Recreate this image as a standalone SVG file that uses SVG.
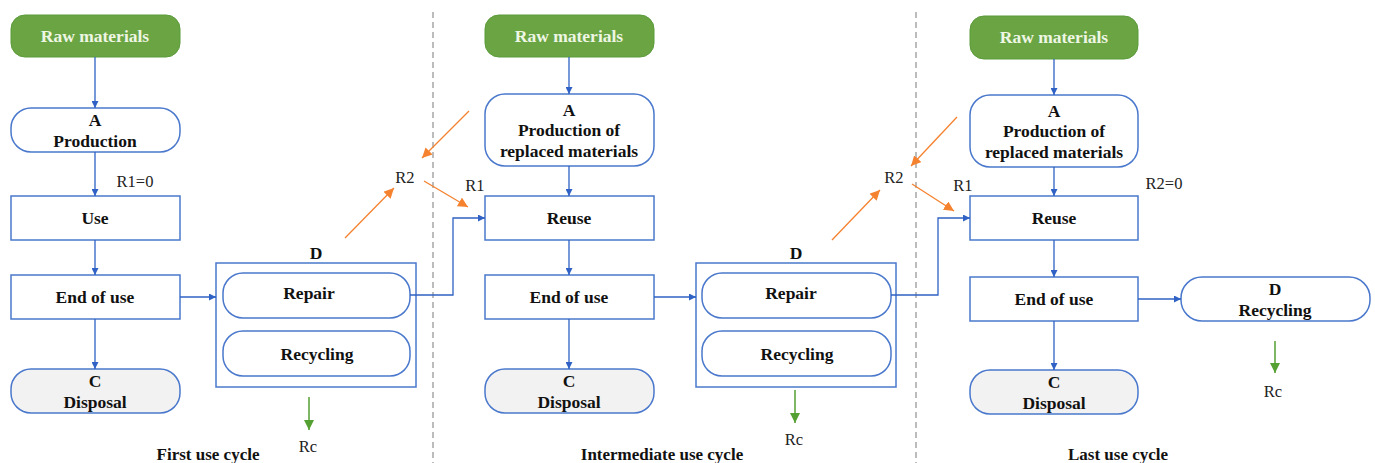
<svg xmlns="http://www.w3.org/2000/svg" width="1375" height="463" viewBox="0 0 1375 463">
<style>
.raw{fill:#6aa443;stroke:#5b9b3a;stroke-width:1}
.box{fill:#fff;stroke:#4a78cc;stroke-width:1.5}
.grey{fill:#f2f2f2;stroke:#4a78cc;stroke-width:1.5}
.t{font-family:"Liberation Serif","Times New Roman",serif;font-weight:bold;font-size:17.5px;fill:#111;text-anchor:middle}
.tw{font-family:"Liberation Serif","Times New Roman",serif;font-weight:bold;font-size:17.5px;fill:#eef6e4;text-anchor:middle}
.r{font-family:"Liberation Serif","Times New Roman",serif;font-size:16.5px;fill:#222;text-anchor:middle}
.cap{font-family:"Liberation Serif","Times New Roman",serif;font-weight:bold;font-size:17px;fill:#111;text-anchor:middle}
.bl{fill:none;stroke:#2f62c4;stroke-width:1.3}
.or{fill:none;stroke:#f5822f;stroke-width:1.3}
.gr{fill:none;stroke:#55a032;stroke-width:1.5}
.dash{stroke:#a6a6a6;stroke-width:1.5;stroke-dasharray:6 4}
</style>
<defs>
<marker id="ab" viewBox="0 0 10 10" refX="10" refY="5" markerWidth="7" markerHeight="7" markerUnits="userSpaceOnUse" orient="auto"><path d="M0,0 L10,5 L0,10 z" fill="#2f62c4"/></marker>
<marker id="ao" viewBox="0 0 10 10" refX="10" refY="5" markerWidth="10" markerHeight="10" markerUnits="userSpaceOnUse" orient="auto"><path d="M0,0 L10,5 L0,10 z" fill="#f5822f"/></marker>
<marker id="ag" viewBox="0 0 10 10" refX="10" refY="5" markerWidth="10" markerHeight="10" markerUnits="userSpaceOnUse" orient="auto"><path d="M0,0 L10,5 L0,10 z" fill="#55a032"/></marker>
</defs>
<rect width="1375" height="463" fill="#fff"/>
<line class="dash" x1="433" y1="12" x2="433" y2="463"/>
<line class="dash" x1="916" y1="12" x2="916" y2="463"/>

<!-- Cycle 1 -->
<g id="raw1"><rect class="raw" x="11" y="15" width="169" height="42" rx="14"/><text class="tw" x="95" y="42">Raw materials</text></g>
<g id="prod1"><rect class="box" x="11" y="108" width="169" height="44" rx="20"/><text class="t" x="95" y="126">A</text><text class="t" x="95" y="147">Production</text></g>
<g id="use1"><rect class="box" x="11" y="196" width="169" height="44"/><text class="t" x="95" y="224">Use</text></g>
<g id="end1"><rect class="box" x="11" y="275" width="169" height="44"/><text class="t" x="95" y="303">End of use</text></g>
<g id="disp1"><rect class="grey" x="11" y="369" width="169" height="44" rx="20"/><text class="t" x="95" y="387">C</text><text class="t" x="95" y="408">Disposal</text></g>
<g id="d1"><text class="t" x="316" y="259">D</text><rect class="box" x="216" y="263" width="200" height="124"/>
<rect class="box" x="223" y="273" width="187" height="45" rx="20"/><text class="t" x="309" y="299">Repair</text>
<rect class="box" x="223" y="331" width="187" height="45" rx="20"/><text class="t" x="317" y="360">Recycling</text></g>
<text class="r" x="135" y="187">R1=0</text>
<text class="r" x="405" y="183">R2</text>
<text class="r" x="308" y="452">Rc</text>
<text class="cap" x="208" y="460">First use cycle</text>

<!-- Cycle 2 -->
<g id="raw2"><rect class="raw" x="485" y="15" width="169" height="42" rx="14"/><text class="tw" x="569" y="42">Raw materials</text></g>
<g id="prod2"><rect class="box" x="485" y="94" width="169" height="72" rx="20"/><text class="t" x="569" y="116">A</text><text class="t" x="569" y="136">Production of</text><text class="t" x="569" y="157">replaced materials</text></g>
<g id="reuse2"><rect class="box" x="485" y="196" width="169" height="44"/><text class="t" x="569" y="224">Reuse</text></g>
<g id="end2"><rect class="box" x="485" y="275" width="169" height="44"/><text class="t" x="569" y="303">End of use</text></g>
<g id="disp2"><rect class="grey" x="485" y="369" width="169" height="44" rx="20"/><text class="t" x="569" y="387">C</text><text class="t" x="569" y="408">Disposal</text></g>
<g id="d2"><text class="t" x="796" y="259">D</text><rect class="box" x="696" y="263" width="200" height="124"/>
<rect class="box" x="702" y="273" width="189" height="45" rx="20"/><text class="t" x="791" y="299">Repair</text>
<rect class="box" x="702" y="331" width="189" height="45" rx="20"/><text class="t" x="797" y="360">Recycling</text></g>
<text class="r" x="475" y="191">R1</text>
<text class="r" x="894" y="183">R2</text>
<text class="r" x="794" y="445">Rc</text>
<text class="cap" x="662" y="460">Intermediate use cycle</text>

<!-- Cycle 3 -->
<g id="raw3"><rect class="raw" x="970" y="16" width="168" height="43" rx="14"/><text class="tw" x="1054" y="43">Raw materials</text></g>
<g id="prod3"><rect class="box" x="970" y="95" width="168" height="72" rx="20"/><text class="t" x="1054" y="117">A</text><text class="t" x="1054" y="137">Production of</text><text class="t" x="1054" y="158">replaced materials</text></g>
<g id="reuse3"><rect class="box" x="970" y="196" width="168" height="44"/><text class="t" x="1054" y="224">Reuse</text></g>
<g id="end3"><rect class="box" x="970" y="277" width="168" height="44"/><text class="t" x="1054" y="305">End of use</text></g>
<g id="disp3"><rect class="grey" x="970" y="370" width="168" height="44" rx="20"/><text class="t" x="1054" y="388">C</text><text class="t" x="1054" y="409">Disposal</text></g>
<g id="d3"><rect class="box" x="1181" y="277" width="189" height="44" rx="21"/><text class="t" x="1275" y="295">D</text><text class="t" x="1275" y="316">Recycling</text></g>
<text class="r" x="963" y="191">R1</text>
<text class="r" x="1164" y="189">R2=0</text>
<text class="r" x="1273" y="397">Rc</text>
<text class="cap" x="1118" y="460">Last use cycle</text>

<g id="connectors">
<line class="bl" x1="95" y1="57" x2="95" y2="108" marker-end="url(#ab)"/>
<line class="bl" x1="95" y1="152" x2="95" y2="196" marker-end="url(#ab)"/>
<line class="bl" x1="95" y1="240" x2="95" y2="275" marker-end="url(#ab)"/>
<line class="bl" x1="95" y1="319" x2="95" y2="369" marker-end="url(#ab)"/>
<line class="bl" x1="180" y1="297" x2="216" y2="297" marker-end="url(#ab)"/>
<polyline class="bl" points="410,295 453,295 453,218 485,218" marker-end="url(#ab)"/>
<line class="or" x1="345" y1="238" x2="394" y2="188" marker-end="url(#ao)"/>
<line class="or" x1="469" y1="111" x2="422" y2="158" marker-end="url(#ao)"/>
<line class="or" x1="424" y1="181" x2="468" y2="207" marker-end="url(#ao)"/>
<line class="gr" x1="309" y1="397" x2="309" y2="430" marker-end="url(#ag)"/>

<line class="bl" x1="569" y1="57" x2="569" y2="94" marker-end="url(#ab)"/>
<line class="bl" x1="569" y1="166" x2="569" y2="196" marker-end="url(#ab)"/>
<line class="bl" x1="569" y1="240" x2="569" y2="275" marker-end="url(#ab)"/>
<line class="bl" x1="569" y1="319" x2="569" y2="369" marker-end="url(#ab)"/>
<line class="bl" x1="654" y1="297" x2="696" y2="297" marker-end="url(#ab)"/>
<polyline class="bl" points="891,295 938,295 938,218 970,218" marker-end="url(#ab)"/>
<line class="or" x1="832" y1="240" x2="880" y2="190" marker-end="url(#ao)"/>
<line class="or" x1="957" y1="117" x2="911" y2="166" marker-end="url(#ao)"/>
<line class="or" x1="912" y1="184" x2="954" y2="211" marker-end="url(#ao)"/>
<line class="gr" x1="795" y1="390" x2="795" y2="423" marker-end="url(#ag)"/>

<line class="bl" x1="1054" y1="59" x2="1054" y2="95" marker-end="url(#ab)"/>
<line class="bl" x1="1054" y1="167" x2="1054" y2="196" marker-end="url(#ab)"/>
<line class="bl" x1="1054" y1="240" x2="1054" y2="277" marker-end="url(#ab)"/>
<line class="bl" x1="1054" y1="321" x2="1054" y2="370" marker-end="url(#ab)"/>
<line class="bl" x1="1138" y1="299" x2="1181" y2="299" marker-end="url(#ab)"/>
<line class="gr" x1="1275" y1="341" x2="1275" y2="373" marker-end="url(#ag)"/>
</g>
</svg>
